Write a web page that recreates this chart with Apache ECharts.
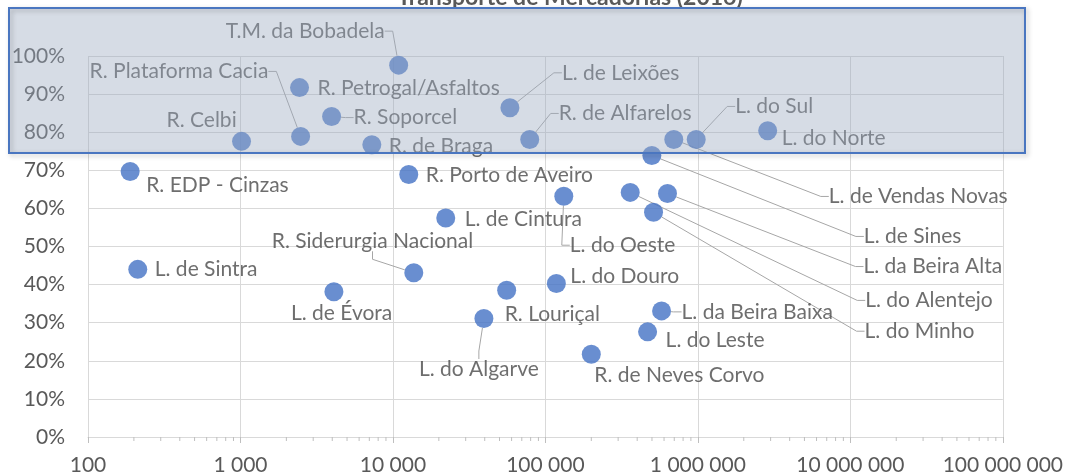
<!DOCTYPE html>
<html lang="pt">
<head>
    <meta charset="utf-8">
</head>
<body style="margin: 0">
<div id="container" style="width: 1066px; height: 476px"></div>

<script type="text/javascript" src="https://fastly.jsdelivr.net/npm/echarts@6/dist/echarts.min.js"></script>

<script type="text/javascript">
    // linhas / ramais, toneladas transportadas, quota do transporte
    var names = [
        'T.M. da Bobadela', 'R. Plataforma Cacia', 'R. Petrogal/Asfaltos', 'R. Soporcel',
        'R. Celbi', 'R. de Braga', 'L. de Leixões', 'R. de Alfarelos',
        'L. de Vendas Novas', 'L. do Sul', 'L. do Norte', 'L. de Sines',
        'R. EDP - Cinzas', 'R. Porto de Aveiro', 'L. de Cintura', 'L. do Oeste',
        'L. do Alentejo', 'L. da Beira Alta', 'L. do Minho', 'R. Siderurgia Nacional',
        'L. de Sintra', 'L. de Évora', 'R. Louriçal', 'L. do Algarve',
        'L. do Douro', 'L. da Beira Baixa', 'L. do Leste', 'R. de Neves Corvo'
    ];
    var tonnes = [
        10900, 2480, 2440, 3960,
        1016, 7270, 58500, 78900,
        695000, 975000, 2870000, 499000,
        189, 12700, 22200, 132000,
        360000, 632000, 512000, 13700,
        212, 4100, 55700, 39500,
        118000, 578000, 468000, 200000
    ];
    var share = [
        0.976, 0.789, 0.917, 0.841,
        0.776, 0.767, 0.864, 0.781,
        0.781, 0.781, 0.804, 0.739,
        0.697, 0.689, 0.575, 0.632,
        0.642, 0.639, 0.590, 0.431,
        0.440, 0.381, 0.385, 0.311,
        0.403, 0.331, 0.276, 0.217
    ];

    // marcas secundárias do eixo x (2..9 em cada década)
    var minorTickValues = [
        200, 300, 400, 500, 600, 700, 800, 900,
        2000, 3000, 4000, 5000, 6000, 7000, 8000, 9000,
        20000, 30000, 40000, 50000, 60000, 70000, 80000, 90000,
        200000, 300000, 400000, 500000, 600000, 700000, 800000, 900000,
        2000000, 3000000, 4000000, 5000000, 6000000, 7000000, 8000000, 9000000,
        20000000, 30000000, 40000000, 50000000, 60000000, 70000000, 80000000, 90000000
    ];

    // posição dos rótulos (px, canto esquerdo / meio, relativo ao ponto)
    var labelOffsets = [
        [-173, -34], [-211, -65], [18, 1], [22, 1],
        [-75, -21], [17, 1], [52, -35], [29, -26],
        [155, 57], [39, -33], [14, 8], [212, 81],
        [16, 14], [17, 1], [19, 1], [6, 49],
        [235, 108], [196, 73], [211, 119], [-142, -32],
        [17, 0], [-43, 21], [-2, 24], [-65, 51],
        [14, -7], [20, 1], [18, 8], [3, 21]
    ];
    var leaderNames = [
        'T.M. da Bobadela', 'R. Plataforma Cacia', 'R. Soporcel', 'L. de Leixões',
        'R. de Alfarelos', 'L. do Sul', 'L. de Vendas Novas', 'L. de Sines',
        'L. da Beira Alta', 'L. do Alentejo', 'L. do Minho', 'L. do Oeste',
        'R. Siderurgia Nacional', 'L. do Algarve', 'L. da Beira Baixa'
    ];

    var FONT = 'Lato';
    var dom = document.getElementById('container');
    var myChart = echarts.init(dom, null, { renderer: 'canvas' });

    var data = names.map(function (n, i) {
        var item = { name: n, value: [tonnes[i], share[i]] };
        if (leaderNames.indexOf(n) >= 0) {
            item.labelLine = { show: true };
        }
        return item;
    });

    function fmtThousands(v) {
        return String(Math.round(v)).replace(/\B(?=(\d{3})+(?!\d))/g, ' ');
    }

    var option = {
        animation: false,
        title: {
            text: 'Transporte de Mercadorias (2016)',
            left: 565,
            textAlign: 'center',
            top: -19,
            textStyle: { fontFamily: FONT, fontSize: 23, fontWeight: 'bold', color: '#595959' }
        },
        grid: { left: 88, right: 60, top: 56, bottom: 38 },
        xAxis: {
            type: 'log',
            logBase: 10,
            min: 100,
            max: 100000000,
            axisLine: { show: true, lineStyle: { color: '#d9d9d9' } },
            axisTick: { show: true, length: 6, lineStyle: { color: '#bfbfbf' } },
            splitLine: { show: true, lineStyle: { color: '#d9d9d9' } },
            axisLabel: {
                margin: 18,
                fontFamily: FONT,
                fontSize: 21,
                color: '#595959',
                formatter: fmtThousands
            }
        },
        yAxis: {
            type: 'value',
            min: 0,
            max: 1,
            interval: 0.1,
            axisLine: { show: false },
            axisTick: { show: false },
            splitLine: { lineStyle: { color: '#d9d9d9' } },
            axisLabel: {
                margin: 23,
                fontFamily: FONT,
                fontSize: 21,
                color: '#595959',
                formatter: function (v) { return Math.round(v * 100) + '%'; }
            }
        },
        series: [
            {
                // marcas secundárias do eixo logarítmico
                type: 'custom',
                silent: true,
                clip: false,
                z: 1,
                data: minorTickValues.map(function (v) { return [v, 0]; }),
                renderItem: function (params, api) {
                    var p = api.coord([api.value(0), api.value(1)]);
                    return {
                        type: 'line',
                        shape: { x1: p[0], y1: p[1], x2: p[0], y2: p[1] + 4 },
                        style: { stroke: '#bfbfbf', lineWidth: 1 }
                    };
                }
            },
            {
                type: 'scatter',
                symbolSize: 19,
                itemStyle: { color: '#4472C4', opacity: 0.8 },
                label: {
                    show: true,
                    formatter: '{b}',
                    fontFamily: FONT,
                    fontSize: 21,
                    color: '#4a4a4a'
                },
                labelLine: {
                    show: false,
                    length2: 8,
                    lineStyle: { color: '#a6a6a6', width: 1 }
                },
                labelLayout: function (p) {
                    var off = labelOffsets[p.dataIndex];
                    var cx = p.rect.x + p.rect.width / 2;
                    var cy = p.rect.y + p.rect.height / 2;
                    return { x: cx + off[0], y: cy + off[1], align: 'left', verticalAlign: 'middle' };
                },
                data: data
            }
        ],
        graphic: [
            {
                type: 'rect',
                z: 100,
                silent: true,
                shape: { x: 9, y: 8, width: 1016, height: 145 },
                style: { fill: 'rgba(155,170,191,0.41)' }
            },
            {
                type: 'rect',
                z: 101,
                silent: true,
                shape: { x: 9, y: 8, width: 1016, height: 145 },
                style: {
                    fill: 'none',
                    stroke: '#4a76c0',
                    lineWidth: 2,
                    shadowBlur: 5,
                    shadowOffsetX: 2,
                    shadowOffsetY: 2,
                    shadowColor: 'rgba(0,0,0,0.25)'
                }
            }
        ]
    };

    myChart.setOption(option);
    window.addEventListener('resize', myChart.resize);
</script>
</body>
</html>
